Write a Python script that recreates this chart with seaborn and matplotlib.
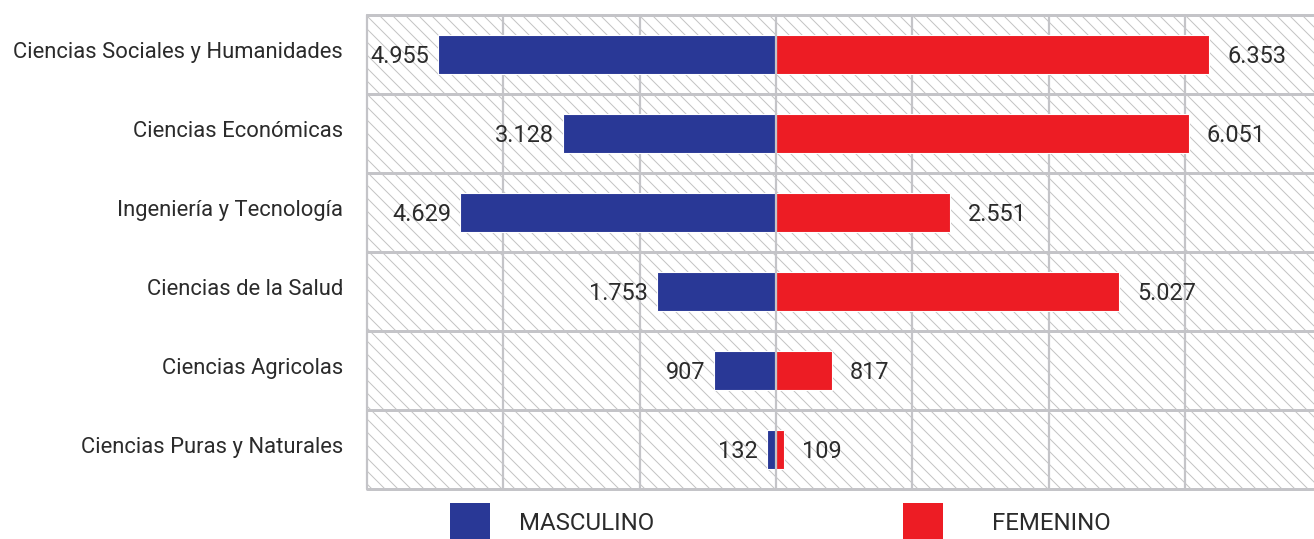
import matplotlib
matplotlib.use('Agg')
import pandas as pd
import matplotlib.pyplot as plt
import seaborn as sns
from matplotlib.patches import Rectangle

# DATA
areas = ['Ciencias Sociales y Humanidades', 'Ciencias Económicas', 'Ingeniería y Tecnología',
         'Ciencias de la Salud', 'Ciencias Agricolas', 'Ciencias Puras y Naturales']
masculino = [4955, 3128, 4629, 1753, 907, 132]
femenino = [6353, 6051, 2551, 5027, 817, 109]
grid_ticks = [-6000, -4000, -2000, 0, 2000, 4000, 6000]

BLUE = '#293896'
RED = '#ed1c24'
GRID = '#c4c4c8'
TEXT = '#2b2b2b'

# dpi 78 gives the hatch spacing of the original; sizes below are given in pixels
DPI = 78
W, H = 1314, 539
PX = 72 / DPI

sns.set_theme(style='white')
plt.rcParams['font.family'] = ['Roboto', 'DejaVu Sans']
plt.rcParams['hatch.linewidth'] = 1.0 * PX

df = pd.DataFrame({
    'area': areas + areas,
    'valor': [-m for m in masculino] + femenino,
    'sexo': ['MASCULINO'] * len(areas) + ['FEMENINO'] * len(areas),
})

fig = plt.figure(figsize=(W / DPI, H / DPI), dpi=DPI)
ax = fig.add_axes([367 / W, 1 - 489 / H, (W - 367) / W, 474 / H])

# hatched background
ax.add_patch(Rectangle((0, 0), 1, 1, transform=ax.transAxes, facecolor='white',
                       edgecolor='#c4c4c4', hatch='\\\\', linewidth=0, zorder=0))

sns.barplot(data=df, y='area', x='valor', hue='sexo', palette={'MASCULINO': BLUE, 'FEMENINO': RED},
            dodge=False, width=0.5, orient='h', saturation=1, legend=False, ax=ax, zorder=3)

ax.set_xlim(-6000, 7890)
ax.set_ylim(len(areas) - 0.5, -0.5)

# grid lines
for t in grid_ticks:
    ax.axvline(t, color=GRID, linewidth=2.2 * PX, zorder=4 if t == 0 else 1, clip_on=False)
for i in range(len(areas) + 1):
    ax.axhline(i - 0.5, color=GRID, linewidth=3 * PX, zorder=1, clip_on=False)

for s in ax.spines.values():
    s.set_visible(False)
ax.set_xticks([])
ax.set_xlabel('')
ax.set_ylabel('')
ax.set_yticks(range(len(areas)))
ax.set_yticklabels([])
ax.tick_params(axis='y', length=0)

# category labels (slightly above the row centres, as in the original)
for i, area in enumerate(areas):
    ax.annotate(area, xy=(0, i), xycoords=ax.get_yaxis_transform(), xytext=(-24 * PX, 2 * PX),
                textcoords='offset points', ha='right', va='center', fontsize=22 * PX, color=TEXT)

# value labels
for i, (m, f) in enumerate(zip(masculino, femenino)):
    ax.annotate(f'{m:,}'.replace(',', '.'), xy=(-m, i), xytext=(-9 * PX, -2 * PX), textcoords='offset points',
                ha='right', va='center', fontsize=23.5 * PX, color=TEXT)
    ax.annotate(f'{f:,}'.replace(',', '.'), xy=(f, i), xytext=(18 * PX, -2 * PX), textcoords='offset points',
                ha='left', va='center', fontsize=23.5 * PX, color=TEXT)

# legend
for x0, xt, lab, col in [(450, 519, 'MASCULINO', BLUE), (903, 992, 'FEMENINO', RED)]:
    fig.add_artist(Rectangle((x0 / W, 0), 40 / W, 36 / H, transform=fig.transFigure,
                             facecolor=col, edgecolor='none'))
    fig.text(xt / W, 1 - 524 / H, lab, ha='left', va='center', fontsize=24 * PX, color=TEXT)

plt.savefig('out.png', dpi=DPI)
